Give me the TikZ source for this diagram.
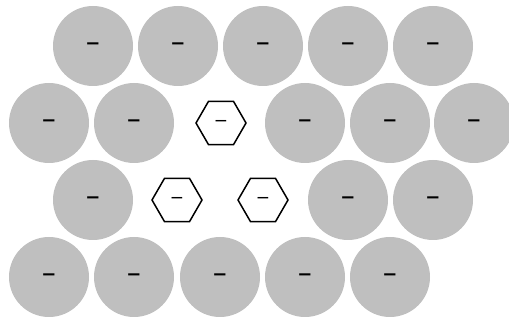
\documentclass[tikz,border=0pt]{standalone}
\usepackage{fontspec}
\newfontfamily\signfont{DejaVu Sans}
\usetikzlibrary{shapes.geometric}

\begin{document}
\begin{tikzpicture}[
    x=1pt, y=-1pt,
    ion/.style={circle, fill=gray!50, inner sep=0pt, minimum size=80pt, text height=0.62em, text depth=0pt, font=\signfont\bfseries\fontsize{18}{18}\selectfont},
    hole/.style={regular polygon, regular polygon sides=6, draw=black, line width=1.5pt, inner sep=0pt, minimum size=50pt, text height=0.62em, text depth=0pt, font=\signfont\fontsize{17}{17}\selectfont}
]
    \useasboundingbox (0,0) rectangle (509,320);

    % Row 1
    \node[ion] (r1a) at (93,46)  {−};
    \node[ion] (r1b) at (178,46) {−};
    \node[ion] (r1c) at (263,46) {−};
    \node[ion] (r1d) at (348,46) {−};
    \node[ion] (r1e) at (433,46) {−};

    % Row 2
    \node[ion]  (r2a) at (49,123)  {−};
    \node[ion]  (r2b) at (134,123) {−};
    \node[hole] (h1)  at (221,123) {−};
    \node[ion]  (r2d) at (305,123) {−};
    \node[ion]  (r2e) at (390,123) {−};
    \node[ion]  (r2f) at (474,123) {−};

    % Row 3
    \node[ion]  (r3a) at (93,200)  {−};
    \node[hole] (h2)  at (177,200) {−};
    \node[hole] (h3)  at (263,200) {−};
    \node[ion]  (r3d) at (348,200) {−};
    \node[ion]  (r3e) at (433,200) {−};

    % Row 4
    \node[ion] (r4a) at (49,277)  {−};
    \node[ion] (r4b) at (134,277) {−};
    \node[ion] (r4c) at (220,277) {−};
    \node[ion] (r4d) at (305,277) {−};
    \node[ion] (r4e) at (390,277) {−};
\end{tikzpicture}
\end{document}
